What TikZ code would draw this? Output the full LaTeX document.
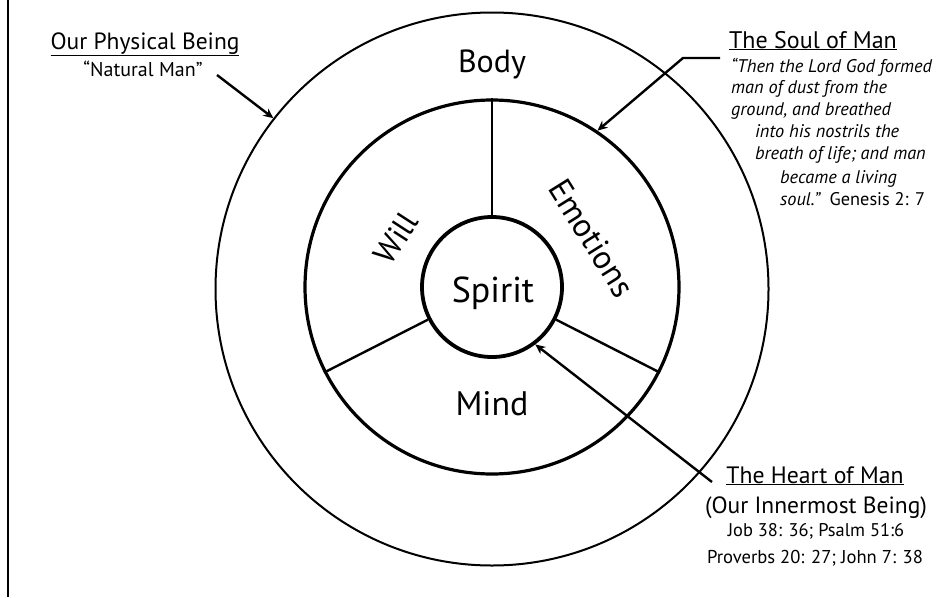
\documentclass[tikz,border=0pt]{standalone}
\usepackage{fontspec}
\setmainfont{PT Sans}
\usetikzlibrary{arrows.meta}
\newcommand{\fs}[1]{\fontsize{#1}{#1}\selectfont}
\begin{document}
\begin{tikzpicture}[x=1pt,y=-1pt,
  ring/.style={circle,draw,inner sep=0pt},
  arr/.style={line width=2.4pt,-{Stealth[length=10pt,width=9pt]}},
  spoke/.style={line width=2.4pt},
  lbl/.style={inner sep=0pt,anchor=base},
  ql/.style={inner sep=0pt,anchor=base west,font=\fs{18.3}\itshape}]
\useasboundingbox (0,0) rectangle (952,597);
\draw[line width=2.5pt] (8,0) -- (8,597);
% circles
\node[ring,line width=2pt,minimum size=553pt] (outer) at (492,289) {};
\node[ring,line width=3.2pt,minimum size=374pt] (soul) at (492,287) {};
\node[ring,line width=3.8pt,minimum size=140pt] (spirit) at (492,287) {};
% spokes
\draw[spoke] (spirit.90) -- (soul.90);
\draw[spoke] (spirit.207) -- (soul.207);
\draw[spoke] (spirit.-27) -- (soul.-27);
% labels in rings
\node[lbl,font=\fs{32}] (body) at (492,72) {Body};
\node[lbl,font=\fs{36}] (spt) at (493,302) {Spirit};
\node[lbl,font=\fs{34}] (mind) at (492,415) {Mind};
\node[inner sep=0pt,font=\fs{32},rotate=57] (will) at (396,238) {Will};
\node[inner sep=0pt,font=\fs{33},rotate=-58] (emo) at (592,238) {Emotions};
% left label
\node[lbl,font=\fs{23.5}] (phys) at (145,49) {\underline{Our Physical Being}};
\node[lbl,font=\fs{20}] (nat) at (143,76) {“Natural Man”};
\coordinate (natS) at (217,75);
\draw[arr] (natS) -- (outer.142);
% soul label
\node[lbl,font=\fs{24}] (soulT) at (813,48) {\underline{The Soul of Man}};
\node[ql] (q1) at (731,72) {“Then the Lord God formed};
\node[ql] (q2) at (731,93) {man of dust from the};
\node[ql] (q3) at (731,115) {ground, and breathed};
\node[ql] (q4) at (755,137) {into his nostrils the};
\node[ql] (q5) at (755,159) {breath of life; and man};
\node[ql] (q6) at (780,183) {became a living};
\node[ql] (q7) at (780,205) {soul.”\ \ \upshape Genesis 2: 7};
\coordinate (soulS) at (720,58);
\coordinate (soulB) at (683,58);
\draw[arr] (soulS) -- (soulB) -- (soul.56.5);
% heart label
\node[lbl,font=\fs{23.7}] (heartT) at (815,483) {\underline{The Heart of Man}};
\node[lbl,font=\fs{23.5}] (inner) at (816,513) {(Our Innermost Being)};
\node[lbl,font=\fs{18.4}] (ref1) at (816,536) {Job 38: 36; Psalm 51:6};
\node[lbl,font=\fs{18.6}] (ref2) at (815,563) {Proverbs 20: 27; John 7: 38};
\coordinate (heartS) at (712,482);
\draw[arr] (heartS) -- (spirit.-53);
\end{tikzpicture}
\end{document}
